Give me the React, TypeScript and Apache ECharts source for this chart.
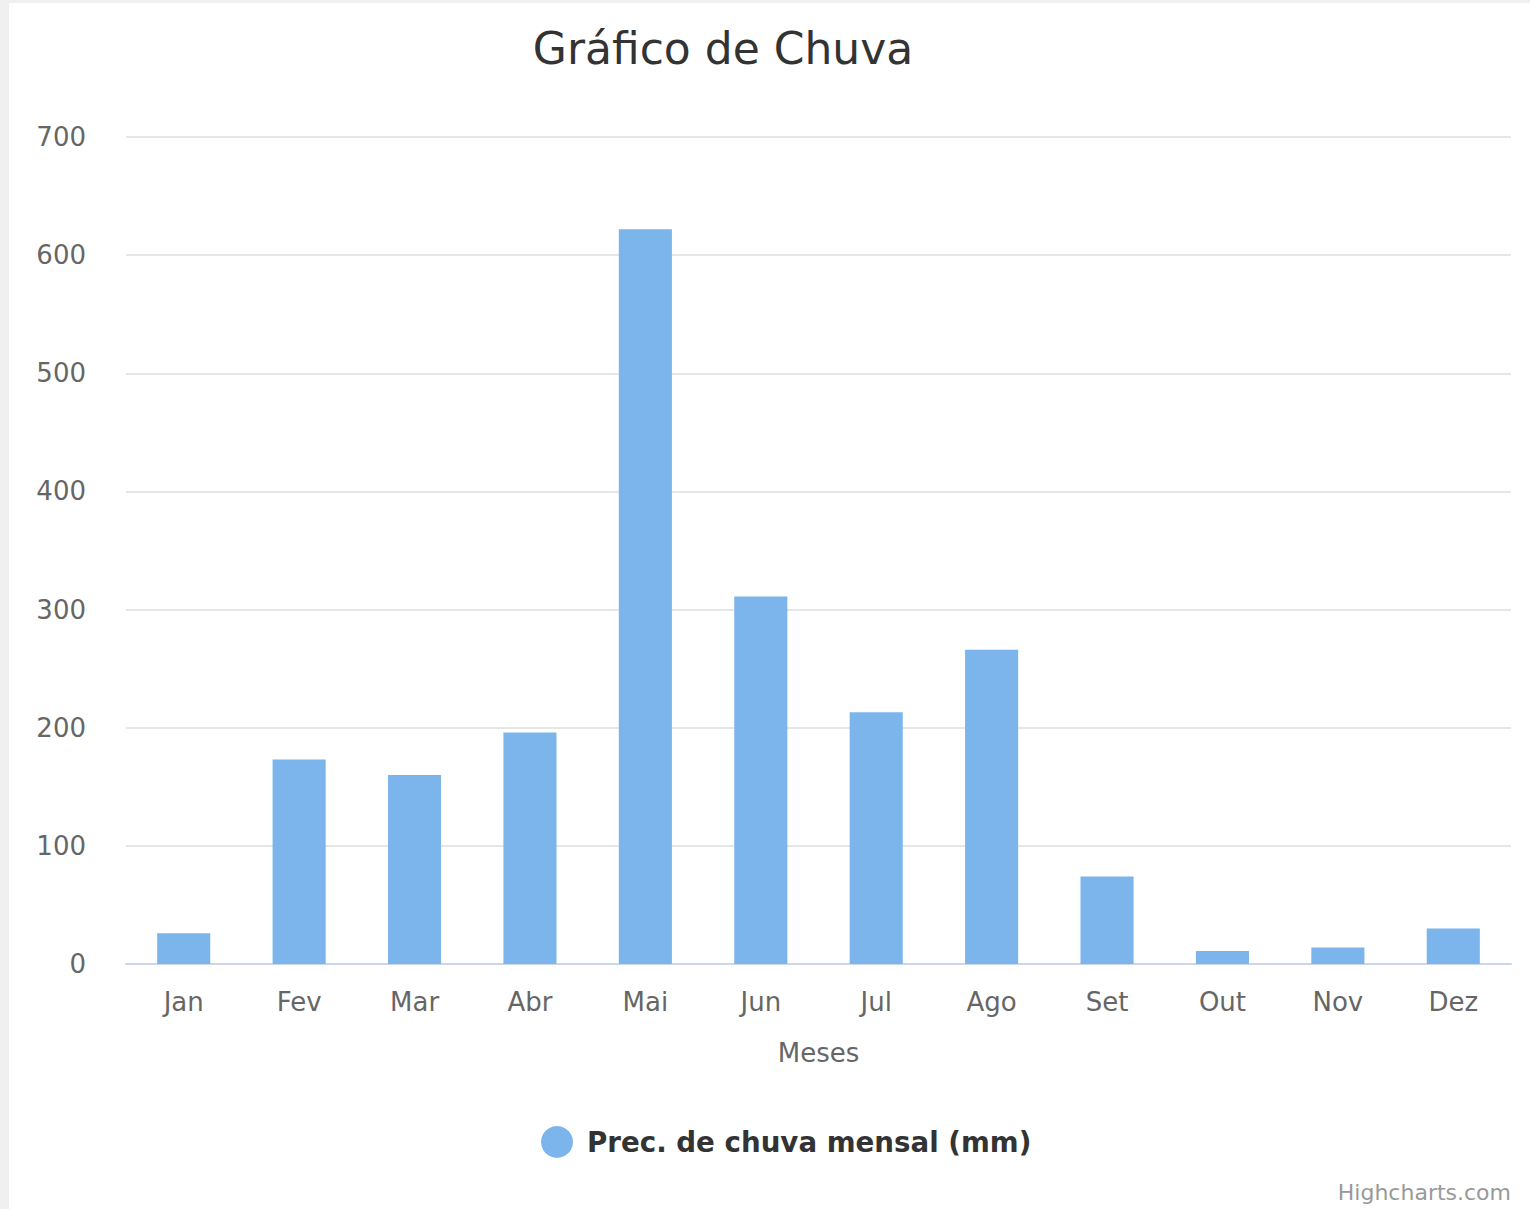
import React, { useEffect, useRef } from "react";
import * as echarts from "echarts";

const months = ["Jan", "Fev", "Mar", "Abr", "Mai", "Jun", "Jul", "Ago", "Set", "Out", "Nov", "Dez"];
const rain = [26, 173, 160, 196, 622, 311, 213, 266, 74, 11, 14, 30];
const seriesName = "Prec. de chuva mensal (mm)";
const titleText = "Gráfico de Chuva";
const xAxisName = "Meses";
const creditText = "Highcharts.com";

const FONT = "'DejaVu Sans', 'Lucida Grande', sans-serif";

export default function App() {
  const ref = useRef<HTMLDivElement>(null);
  useEffect(() => {
    if (!ref.current) return;
    const chart = echarts.init(ref.current, null, { renderer: "svg" });
    chart.setOption({
      animation: false,
      backgroundColor: "#ffffff",
      title: {
        text: titleText,
        left: 709,
        top: 18,
        textAlign: "center",
        textStyle: { fontFamily: FONT, fontSize: 44, fontWeight: "normal", color: "#333333" },
      },
      grid: { left: 117, right: 19, top: 134, bottom: 245, containLabel: false },
      xAxis: {
        type: "category",
        data: months,
        name: xAxisName,
        nameLocation: "middle",
        nameGap: 76,
        nameTextStyle: { fontFamily: FONT, fontSize: 26, color: "#666666" },
        axisLine: { show: true, lineStyle: { color: "#ccd6eb", width: 2 } },
        axisTick: { show: false },
        axisLabel: { fontFamily: FONT, fontSize: 26, color: "#666666", margin: 25 },
        splitLine: { show: false },
      },
      yAxis: {
        type: "value",
        min: 0,
        max: 700,
        interval: 100,
        axisLine: { show: false },
        axisTick: { show: false },
        axisLabel: { fontFamily: FONT, fontSize: 26, color: "#666666", margin: 40 },
        splitLine: { lineStyle: { color: "#e6e6e6", width: 2 } },
      },
      legend: {
        left: 527,
        top: 1118,
        icon: "circle",
        itemWidth: 32,
        itemHeight: 32,
        itemGap: 10,
        textStyle: { fontFamily: FONT, fontSize: 27.7, fontWeight: "bold", color: "#333333", padding: [0, 0, 0, 9] },
        data: [seriesName],
      },
      graphic: [
        {
          type: "text",
          right: 19,
          top: 1178,
          style: { text: creditText, font: "22px " + FONT, fill: "#999999" },
        },
      ],
      series: [
        {
          type: "bar",
          name: seriesName,
          data: rain,
          barWidth: "46%",
          itemStyle: { color: "#7cb5ec" },
        },
      ],
    });
    return () => chart.dispose();
  }, []);
  return (
    <div style={{ position: "fixed", left: 0, top: 0, width: 1530, height: 1209, background: "#f0f0f0" }}>
      <div ref={ref} style={{ position: "absolute", left: 9, top: 3, width: 1521, height: 1206 }} />
    </div>
  );
}
